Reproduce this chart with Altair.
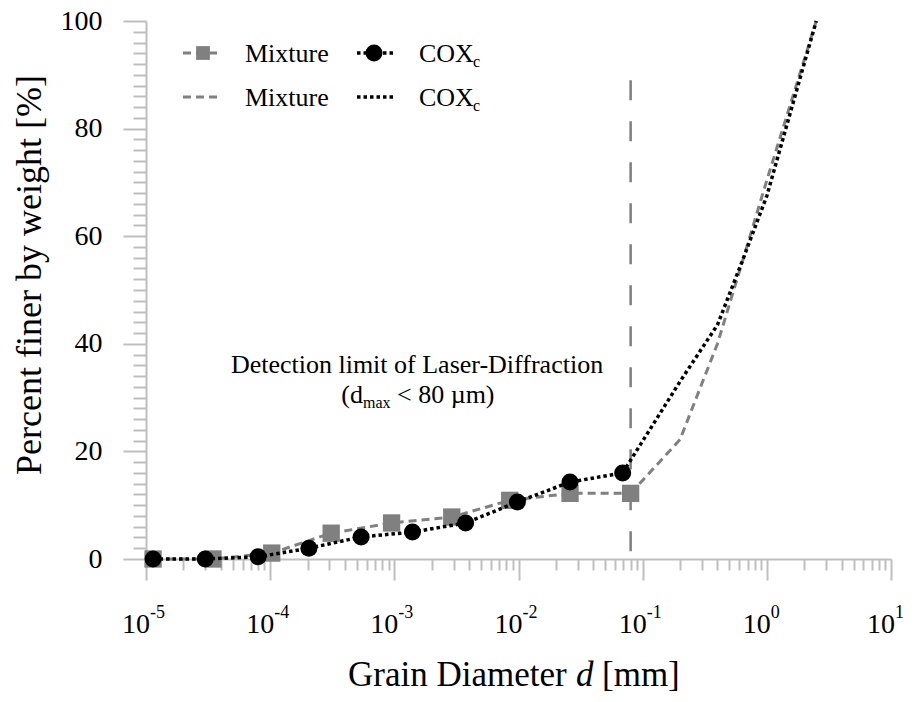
import altair as alt
import pandas as pd

# ---------------- data ----------------
mix_d = [1.14e-5, 3.46e-5, 1.03e-4, 3.1e-4, 9.5e-4, 2.9e-3, 8.5e-3, 0.026, 0.08]
mix_p = [0.0, 0.0, 1.1, 4.8, 6.7, 7.8, 10.9, 12.2, 12.2]

cox_d = [1.14e-5, 3.0e-5, 8.0e-5, 2.05e-4, 5.4e-4, 1.4e-3, 3.75e-3, 9.8e-3, 0.026, 0.069]
cox_p = [0.0, 0.0, 0.4, 2.0, 4.1, 5.0, 6.7, 10.6, 14.3, 16.0]

mix_tail_d = [0.08, 0.2, 0.4, 0.63, 1.0, 2.5]
mix_tail_p = [12.2, 22.2, 40.0, 55.0, 70.4, 100.0]

cox_tail_d = [0.069, 0.2, 0.4, 0.63, 1.0, 2.5]
cox_tail_p = [16.0, 33.0, 43.5, 55.2, 67.5, 100.0]

limit_d = [0.08]
limit_top = [89.0]

decade_exp = [-5, -4, -3, -2, -1, 0, 1]
y_ticks = list(range(0, 101, 2))

FONT = "Liberation Serif"
GRAY = "#808080"
AXC = "#bfbfbf"

x_ticks = [m * 10.0 ** e for e in decade_exp[:-1] for m in range(1, 10)] + [10.0 ** decade_exp[-1]]

xscale = alt.Scale(type="log", domain=[1e-5, 10], nice=False)
yscale = alt.Scale(domain=[0, 100], nice=False, zero=False)

major_x = "abs(log(datum.value)/LN10 - round(log(datum.value)/LN10)) < 1e-6"

xaxis = alt.Axis(values=x_ticks, tickCount=500, labels=False, title=None, grid=False,
                 domainColor=AXC, domainWidth=2, tickColor=AXC, tickWidth=2,
                 tickSize={"condition": {"test": major_x, "value": 21}, "value": 11})
yaxis = alt.Axis(values=y_ticks, tickCount=500, title=None, grid=False, format="d",
                 domainColor=AXC, domainWidth=2, tickColor=AXC, tickWidth=2,
                 tickSize={"condition": {"test": "datum.value % 20 === 0", "value": 23}, "value": 13},
                 labelExpr="datum.value % 20 === 0 ? datum.label : ''",
                 labelOverlap=False, labelFont=FONT, labelFontSize=28, labelColor="black",
                 labelPadding=21)

mix = pd.DataFrame({"d": mix_d, "p": mix_p})
cox = pd.DataFrame({"d": cox_d, "p": cox_p})
mixt = pd.DataFrame({"d": mix_tail_d, "p": mix_tail_p})
coxt = pd.DataFrame({"d": cox_tail_d, "p": cox_tail_p})
lim = pd.DataFrame({"d": limit_d, "top": limit_top, "bottom": [0.0]})
dec = pd.DataFrame({"v": [10.0 ** e for e in decade_exp], "e": [str(e) for e in decade_exp]})

X = alt.X("d:Q", scale=xscale, axis=xaxis)
Y = alt.Y("p:Q", scale=yscale, axis=yaxis)

GDASH = [8, 5]
BDOT = [3.5, 3]

axes_layer = alt.Chart(mix).mark_point(opacity=0).encode(x=X, y=Y)

mix_line = alt.Chart(mix).mark_line(color=GRAY, strokeDash=GDASH, strokeWidth=3).encode(
    x=alt.X("d:Q", scale=xscale), y=alt.Y("p:Q", scale=yscale))
mix_tail = alt.Chart(mixt).mark_line(color=GRAY, strokeDash=GDASH, strokeWidth=3).encode(
    x=alt.X("d:Q", scale=xscale), y=alt.Y("p:Q", scale=yscale))
mix_pts = alt.Chart(mix).mark_point(shape="square", filled=True, size=300, color=GRAY, opacity=1).encode(
    x=alt.X("d:Q", scale=xscale), y=alt.Y("p:Q", scale=yscale))

cox_line = alt.Chart(cox).mark_line(color="black", strokeDash=BDOT, strokeWidth=3.5).encode(
    x=alt.X("d:Q", scale=xscale), y=alt.Y("p:Q", scale=yscale))
cox_tail = alt.Chart(coxt).mark_line(color="black", strokeDash=BDOT, strokeWidth=3.5).encode(
    x=alt.X("d:Q", scale=xscale), y=alt.Y("p:Q", scale=yscale))
cox_pts = alt.Chart(cox).mark_point(shape="circle", filled=True, size=290, color="black", opacity=1).encode(
    x=alt.X("d:Q", scale=xscale), y=alt.Y("p:Q", scale=yscale))

limit_rule = alt.Chart(lim).mark_rule(color="#7f7f7f", strokeWidth=2.5, strokeDash=[20, 21]).encode(
    x=alt.X("d:Q", scale=xscale), y=alt.Y("top:Q", scale=yscale), y2="bottom:Q")

# decade labels 10^e
dec_base = alt.Chart(dec).mark_text(font=FONT, fontSize=28, align="right", baseline="alphabetic",
                                    dx=4, color="black").encode(
    x=alt.X("v:Q", scale=xscale), y=alt.value(612), text=alt.value("10"))
dec_exp = alt.Chart(dec).mark_text(font=FONT, fontSize=18, align="left", baseline="alphabetic",
                                   dx=4, color="black").encode(
    x=alt.X("v:Q", scale=xscale), y=alt.value(597), text="e:N")


def deco():
    return alt.Chart(alt.Data(values=[{}]))


def txt(s, x, y, size=26, align="left", italic=False, angle=0):
    kw = dict(font=FONT, fontSize=size, align=align, baseline="alphabetic", color="black")
    if italic:
        kw["fontStyle"] = "italic"
    if angle:
        kw["angle"] = angle
        kw["baseline"] = "middle"
    return deco().mark_text(**kw).encode(x=alt.value(x), y=alt.value(y), text=alt.value(s))


# annotation
ann = [
    txt("Detection limit of Laser-Diffraction", 271, 352, 26, "center"),
    txt("(d", 217, 382, 26, "right"),
    txt("max", 217, 387, 16, "left"),
    txt("< 80 µm)", 251, 382, 26, "left"),
]

# axis titles
titles = [
    txt("Percent finer by weight [%]", -116, 254, 36, "center", angle=270),
    txt("Grain Diameter", 202, 665, 35, "left"),
    txt("d", 430, 665, 35, "left", italic=True),
    txt("[mm]", 456, 665, 35, "left"),
]

# manual legend
leg = [
    deco().mark_rule(color=GRAY, strokeWidth=3, strokeDash=GDASH).encode(
        x=alt.value(37), x2=alt.value(75), y=alt.value(32)),
    deco().mark_point(shape="square", filled=True, size=190, color=GRAY, opacity=1).encode(
        x=alt.value(57), y=alt.value(32)),
    txt("Mixture", 99, 41, 26),
    deco().mark_rule(color="black", strokeWidth=3.5, strokeDash=BDOT).encode(
        x=alt.value(211), x2=alt.value(249), y=alt.value(32)),
    deco().mark_point(shape="circle", filled=True, size=290, color="black", opacity=1).encode(
        x=alt.value(228), y=alt.value(32)),
    txt("COX", 273, 41, 26),
    txt("c", 327, 46, 16),
    deco().mark_rule(color=GRAY, strokeWidth=3, strokeDash=GDASH).encode(
        x=alt.value(37), x2=alt.value(75), y=alt.value(76)),
    txt("Mixture", 99, 85, 26),
    deco().mark_rule(color="black", strokeWidth=3.5, strokeDash=BDOT).encode(
        x=alt.value(211), x2=alt.value(249), y=alt.value(76)),
    txt("COX", 273, 85, 26),
    txt("c", 327, 90, 16),
]

chart = alt.layer(
    axes_layer, limit_rule, mix_line, mix_tail, mix_pts, cox_line, cox_tail, cox_pts,
    dec_base, dec_exp, *ann, *titles, *leg
).properties(
    width=745, height=538,
    autosize=alt.AutoSizeParams(type="none"),
    padding={"left": 138, "top": 13, "right": 17, "bottom": 135},
    background="white",
).configure_view(stroke=None)

chart.save("out.html", embed_options={"renderer": "svg", "actions": False})
